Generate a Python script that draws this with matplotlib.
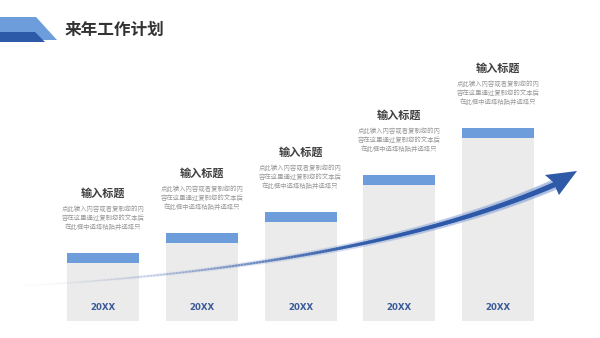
import numpy as np
import matplotlib.pyplot as plt
from matplotlib.patches import Polygon
from matplotlib.collections import LineCollection

plt.rcParams['font.family'] = ['Noto Sans CJK SC', 'DejaVu Sans']

# data
years = ['20XX', '20XX', '20XX', '20XX', '20XX']
values = [68, 88, 109, 146, 193]
titles = ['输入标题'] * 5
body = ['点此输入内容或者复制您的内',
        '容在这里通过复制您的文本后',
        '在此框中选择粘贴并选择只']
chart_title = '来年工作计划'
# arrow anchors (start, control, end) in pixel space
arrow_pts = [(0, 287), (360, 269), (556, 184)]

W, H = 600, 338
fig = plt.figure(figsize=(6, 3.38), dpi=100)
fig.patch.set_facecolor('white')

# bar axes: 1 data unit = 1 px vertically, baseline at pixel row 321
ax = fig.add_axes([0, 0, 1, 1])
step = 98.75
ax.set_xlim(-103 / step, (W - 103) / step)
ax.set_ylim(321 - H, 321)
ax.axis('off')

x = np.arange(len(values))
bw = 72 / step
ax.bar(x, values, width=bw, color='#ebebeb', zorder=1)
head = 9.5
ax.bar(x, [head] * len(values), bottom=[v - head for v in values], width=bw,
       color='#6d9ddb', zorder=2)

for i, v in enumerate(values):
    ax.text(x[i], 13, years[i], ha='center', va='center', fontsize=6.2,
            fontweight='bold', color='#3a5a98', family='DejaVu Sans', zorder=5)
    ax.text(x[i], v + 60, titles[i], ha='center', va='center', fontsize=8,
            fontweight='bold', color='#3f3f3f', zorder=5)
    for j, line in enumerate(body):
        ax.text(x[i], v + 44 - 9 * j, line, ha='center', va='center',
                fontsize=4.6, color='#999999', zorder=5)

# overlay axes in pixel coordinates for decorations
ov = fig.add_axes([0, 0, 1, 1])
ov.set_xlim(0, W)
ov.set_ylim(H, 0)
ov.axis('off')
ov.patch.set_alpha(0)

# banner
ov.add_patch(Polygon([(0, 17), (36, 17), (57, 40), (0, 40)], closed=True,
                     color='#6d9ddb', lw=0))
ov.add_patch(Polygon([(0, 32), (35, 32), (45, 42), (0, 42)], closed=True,
                     color='#2d5aa8', lw=0))
ov.text(65, 30, chart_title, ha='left', va='center', fontsize=12,
        fontweight='bold', color='#333333')

# curved arrow with fading tail
p0, p1, p2 = [np.array(p, float) for p in arrow_pts]
t = np.linspace(0, 1, 200)[:, None]
pts = (1 - t) ** 2 * p0 + 2 * (1 - t) * t * p1 + t ** 2 * p2
segs = np.stack([pts[:-1], pts[1:]], axis=1)
tt = t[:-1, 0]
alpha = np.clip(tt * 1.5, 0, 1) ** 1.6
lw = 0.6 + 3.0 * tt
cols = np.zeros((len(tt), 4))
cols[:, :3] = [0.18, 0.35, 0.66]
cols[:, 3] = alpha
glow = cols.copy()
glow[:, :3] = [0.55, 0.65, 0.85]
glow[:, 3] = alpha * 0.25
ov.add_collection(LineCollection(segs, colors=glow, linewidths=lw * 2.2,
                                 capstyle='round', zorder=3))
ov.add_collection(LineCollection(segs, colors=cols, linewidths=lw,
                                 capstyle='round', zorder=4))
ov.add_patch(Polygon([(577, 171), (545, 175), (553, 182), (559, 195)],
                     closed=True, color='#2e5aa8', lw=0, zorder=4))

fig.savefig('out.png', dpi=100)
